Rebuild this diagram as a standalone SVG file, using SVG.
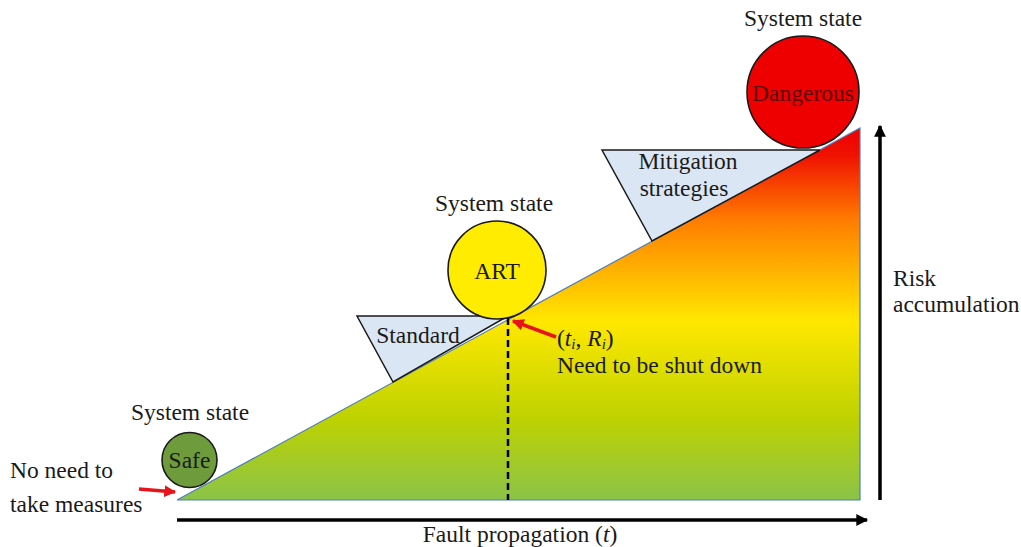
<svg xmlns="http://www.w3.org/2000/svg" width="1021" height="547" viewBox="0 0 1021 547">
<style>
text{font-family:"Liberation Serif","Times New Roman",serif;font-size:23.5px;fill:#1a1a1a}
.c{text-anchor:middle}
.node{stroke:#1a1a1a;stroke-width:1.6}
.wedge{fill:#dae6f4;stroke:#1a1a1a;stroke-width:1.5}
.axis{stroke:#000;stroke-width:3.5;fill:none}
.red{stroke:#e8141b;stroke-width:3.5;fill:none}
</style>
<defs>
<linearGradient id="risk" x1="0" y1="128" x2="0" y2="500" gradientUnits="userSpaceOnUse">
<stop offset="0" stop-color="#ee0000"/>
<stop offset="0.07" stop-color="#f01000"/>
<stop offset="0.25" stop-color="#ff7e00"/>
<stop offset="0.52" stop-color="#ffe800"/>
<stop offset="0.78" stop-color="#bed200"/>
<stop offset="1" stop-color="#8bc349"/>
</linearGradient>
<marker id="ah" viewBox="0 0 10 10" refX="9" refY="5" markerWidth="3.6" markerHeight="3.4" orient="auto" markerUnits="strokeWidth">
<path d="M0,0 L10,5 L0,10 z" fill="#000"/>
</marker>
<marker id="rh" viewBox="0 0 10 10" refX="9" refY="5" markerWidth="3.4" markerHeight="3.4" orient="auto" markerUnits="strokeWidth">
<path d="M0,0 L10,5 L0,10 z" fill="#e8141b"/>
</marker>
</defs>

<g id="risk-triangle">
<polygon points="177,500 860,500 860,128" fill="url(#risk)" stroke="#4f7fbf" stroke-width="1.2"/>
</g>

<g id="standard-wedge">
<polygon class="wedge" points="357,316 508,316 393,382"/>
<text x="418" y="343" class="c">Standard</text>
</g>

<g id="mitigation-wedge">
<polygon class="wedge" points="602,150 820,150 652,241"/>
<text x="688" y="169" class="c">Mitigation</text>
<text x="684" y="196" class="c">strategies</text>
</g>

<g id="connectors">
<line x1="508" y1="318" x2="508" y2="500" stroke="#000" stroke-width="2.5" stroke-dasharray="7,4"/>
<line class="axis" x1="177" y1="520" x2="867" y2="520" marker-end="url(#ah)"/>
<line class="axis" x1="880" y1="500" x2="880" y2="126" marker-end="url(#ah)"/>
<line class="red" x1="139" y1="489" x2="175" y2="492" marker-end="url(#rh)"/>
<line class="red" x1="556" y1="337" x2="513" y2="321" marker-end="url(#rh)"/>
</g>

<g id="safe-node">
<text x="190" y="420" class="c">System state</text>
<circle class="node" cx="189.5" cy="460" r="27.5" fill="#6e9c3c"/>
<text x="189.5" y="468" class="c">Safe</text>
</g>

<g id="art-node">
<text x="494" y="211" class="c">System state</text>
<circle class="node" cx="497" cy="270" r="49" fill="#ffec00"/>
<text x="497" y="279" class="c">ART</text>
</g>

<g id="dangerous-node">
<text x="803" y="26" class="c">System state</text>
<circle class="node" cx="803" cy="92" r="56" fill="#ee0000"/>
<text x="803" y="101" class="c" style="fill:#5a0000">Dangerous</text>
</g>

<g id="labels">
<text x="10" y="478">No need to</text>
<text x="10" y="512">take measures</text>
<text x="557" y="346">(<tspan font-style="italic">t</tspan><tspan font-style="italic" font-size="15" dy="3">i</tspan><tspan dy="-3">, </tspan><tspan font-style="italic">R</tspan><tspan font-style="italic" font-size="15" dy="3">i</tspan><tspan dy="-3">)</tspan></text>
<text x="557" y="373">Need to be shut down</text>
<text x="893" y="286">Risk</text>
<text x="893" y="312">accumulation</text>
<text x="520" y="542" class="c">Fault propagation (<tspan font-style="italic">t</tspan>)</text>
</g>
</svg>
